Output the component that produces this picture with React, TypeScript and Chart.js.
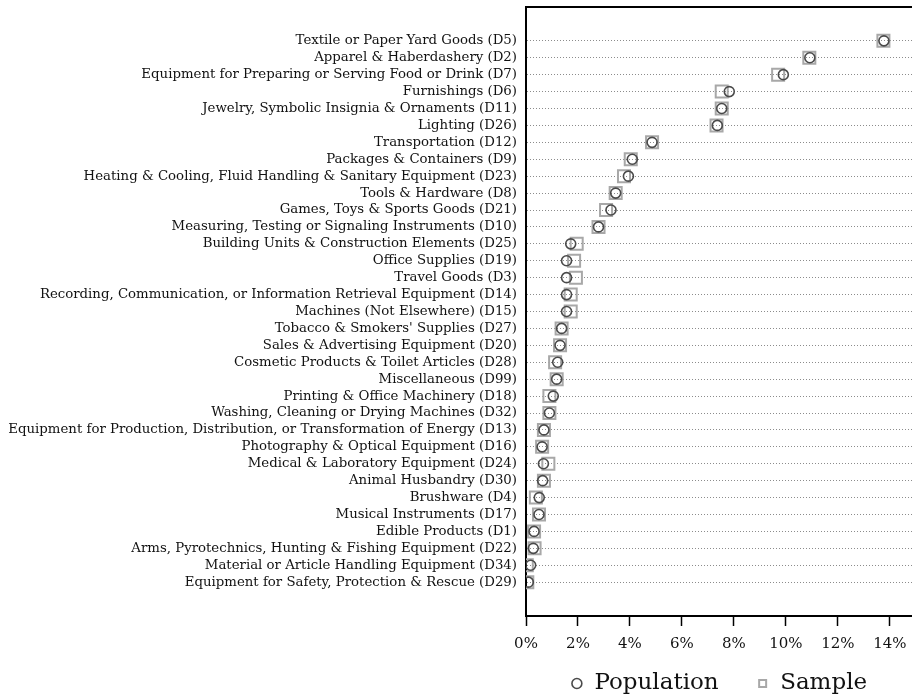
import { useEffect, useRef } from 'react';
import { Chart, registerables } from 'chart.js';

Chart.register(...registerables);

const categories = [
  'Textile or Paper Yard Goods (D5)',
  'Apparel & Haberdashery (D2)',
  'Equipment for Preparing or Serving Food or Drink (D7)',
  'Furnishings (D6)',
  'Jewelry, Symbolic Insignia & Ornaments (D11)',
  'Lighting (D26)',
  'Transportation (D12)',
  'Packages & Containers (D9)',
  'Heating & Cooling, Fluid Handling & Sanitary Equipment (D23)',
  'Tools & Hardware (D8)',
  'Games, Toys & Sports Goods (D21)',
  'Measuring, Testing or Signaling Instruments (D10)',
  'Building Units & Construction Elements (D25)',
  'Office Supplies (D19)',
  'Travel Goods (D3)',
  'Recording, Communication, or Information Retrieval Equipment (D14)',
  'Machines (Not Elsewhere) (D15)',
  "Tobacco & Smokers' Supplies (D27)",
  'Sales & Advertising Equipment (D20)',
  'Cosmetic Products & Toilet Articles (D28)',
  'Miscellaneous (D99)',
  'Printing & Office Machinery (D18)',
  'Washing, Cleaning or Drying Machines (D32)',
  'Equipment for Production, Distribution, or Transformation of Energy (D13)',
  'Photography & Optical Equipment (D16)',
  'Medical & Laboratory Equipment (D24)',
  'Animal Husbandry (D30)',
  'Brushware (D4)',
  'Musical Instruments (D17)',
  'Edible Products (D1)',
  'Arms, Pyrotechnics, Hunting & Fishing Equipment (D22)',
  'Material or Article Handling Equipment (D34)',
  'Equipment for Safety, Protection & Rescue (D29)',
];

const populationShare = [
  13.77, 10.92, 9.9, 7.82, 7.53, 7.36, 4.85, 4.09, 3.94, 3.45, 3.27,
  2.79, 1.72, 1.56, 1.56, 1.56, 1.56, 1.37, 1.31, 1.22, 1.18, 1.05,
  0.9, 0.69, 0.62, 0.67, 0.64, 0.51, 0.5, 0.31, 0.28, 0.18, 0.09,
];

const sampleShare = [
  13.75, 10.9, 9.7, 7.53, 7.53, 7.33, 4.85, 4.03, 3.77, 3.45, 3.08,
  2.79, 1.95, 1.85, 1.92, 1.72, 1.72, 1.37, 1.31, 1.12, 1.18, 0.9,
  0.9, 0.69, 0.62, 0.86, 0.69, 0.38, 0.5, 0.31, 0.33, 0.03, 0.05,
];

const xTickValues = [0, 2, 4, 6, 8, 10, 12, 14];

const SERIF = '"DejaVu Serif", "Liberation Serif", serif';

export default function App() {
  const ref = useRef<HTMLCanvasElement>(null);

  useEffect(() => {
    document.body.style.margin = '0';
    const canvas = ref.current;
    if (!canvas) return;

    const frameTop = {
      id: 'frameTop',
      afterDraw(chart: any) {
        const { ctx, chartArea } = chart;
        ctx.save();
        ctx.strokeStyle = '#000';
        ctx.lineWidth = 2;
        ctx.beginPath();
        ctx.moveTo(chartArea.left, chartArea.top);
        ctx.lineTo(chartArea.right, chartArea.top);
        ctx.stroke();
        ctx.restore();
      },
    };

    const chart = new Chart(canvas, {
      type: 'scatter',
      data: {
        datasets: [
          {
            label: 'Population',
            data: populationShare.map((v, i) => ({ x: v, y: i })),
            pointStyle: 'circle',
            pointRadius: 5,
            pointHoverRadius: 5,
            borderColor: '#4a4a4a',
            backgroundColor: 'rgba(0,0,0,0)',
            borderWidth: 1.6,
          },
          {
            label: 'Sample',
            data: sampleShare.map((v, i) => ({ x: v, y: i })),
            pointStyle: 'rect',
            pointRadius: 8.5,
            pointHoverRadius: 8.5,
            borderColor: '#a8a8a8',
            backgroundColor: 'rgba(0,0,0,0)',
            borderWidth: 2,
          },
        ],
      },
      options: {
        responsive: false,
        animation: false,
        layout: { autoPadding: false, padding: { top: 7, left: 0, right: 0, bottom: 0 } },
        plugins: {
          tooltip: { enabled: false },
          legend: {
            position: 'bottom',
            fullSize: false,
            maxHeight: 64,
            labels: {
              usePointStyle: true,
              boxWidth: 12,
              boxHeight: 7,
              padding: 38,
              color: '#111',
              font: { family: SERIF, size: 23 },
            },
          },
        },
        scales: {
          x: {
            type: 'linear',
            min: 0,
            max: 14.85,
            afterBuildTicks: (s: any) => {
              s.ticks = xTickValues.map((v) => ({ value: v }));
            },
            afterFit: (s: any) => {
              s.height = 18;
              s.paddingLeft = 0;
              s.paddingRight = 0;
            },
            ticks: {
              callback: (v: any) => v + '%',
              color: '#111',
              font: { family: SERIF, size: 15 },
              mirror: true,
              padding: -37.5,
              maxRotation: 0,
              autoSkip: false,
            },
            grid: {
              drawOnChartArea: false,
              drawTicks: true,
              tickLength: 10,
              tickColor: '#000',
              tickWidth: 1.5,
            },
            border: { display: true, color: '#000', width: 2 },
          },
          y: {
            type: 'linear',
            reverse: true,
            min: -2,
            max: 34,
            afterBuildTicks: (s: any) => {
              s.ticks = categories.map((_, i) => ({ value: i }));
            },
            afterFit: (s: any) => {
              s.width = 526;
              s.paddingTop = 0;
              s.paddingBottom = 0;
            },
            ticks: {
              callback: (v: any) => categories[v as number] ?? '',
              color: '#111',
              font: { family: SERIF, size: 13.3 },
              padding: 9,
              autoSkip: false,
            },
            grid: {
              color: '#8c8c8c',
              lineWidth: 1,
              drawTicks: false,
            },
            border: { display: true, color: '#000', width: 2, dash: [1, 2] },
          },
        },
      },
      plugins: [frameTop],
    } as any);

    return () => chart.destroy();
  }, []);

  return (
    <div style={{ width: 912, height: 698 }}>
      <canvas ref={ref} width={912} height={698} style={{ display: 'block' }} />
    </div>
  );
}
